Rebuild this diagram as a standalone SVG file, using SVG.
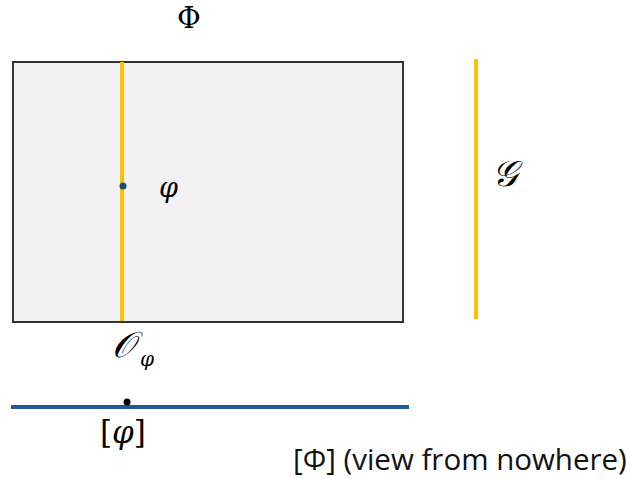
<svg xmlns="http://www.w3.org/2000/svg" width="627" height="479" viewBox="0 0 627 479">
<style>
.m{font-family:"DejaVu Serif","Liberation Serif",serif;fill:#000}
.yl{stroke:#ffc000;stroke-width:4}
.t{font-family:"Open Sans","Liberation Sans",sans-serif;fill:#111}
</style>
<rect width="627" height="479" fill="#fff"/>
<g id="box">
<rect x="13" y="62" width="390" height="260" fill="#f2f2f2" stroke="#333" stroke-width="2"/>
</g>
<g id="connectors">
<line class="yl" x1="122" y1="62" x2="122" y2="321"/>
<line class="yl" x1="476" y1="59" x2="476" y2="319"/>
<line x1="11" y1="407" x2="409" y2="407" stroke="#1f5a96" stroke-width="4"/>
</g>
<g id="phi-point">
<circle cx="123" cy="186" r="3.5" fill="#1f4e79"/>
<text class="m" x="159" y="197" font-size="27" font-style="italic">φ</text>
</g>
<g id="Phi"><text class="m" x="177" y="28" font-size="29">Φ</text></g>
<g id="G"><text class="m" x="492" y="186" font-size="36" font-style="italic">𝒢</text></g>
<g id="O"><text class="m" x="112" y="357" font-size="36" font-style="italic">𝒪</text><text class="m" x="140" y="366" font-size="20" font-style="italic">φ</text></g>
<g id="phi-bracket">
<circle cx="127" cy="402" r="3.5" fill="#000"/>
<text class="m" x="100" y="443" font-size="31">[<tspan font-style="italic">φ</tspan>]</text>
</g>
<g id="label"><text class="t" x="293" y="470" font-size="29.5">[Φ] (view from nowhere)</text></g>
</svg>
